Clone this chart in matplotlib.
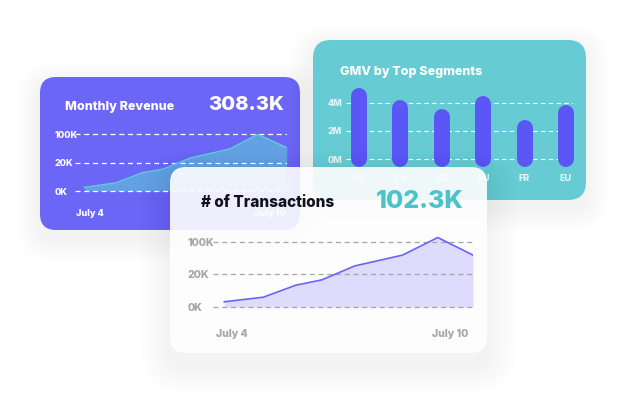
import matplotlib.pyplot as plt
from matplotlib.patches import FancyBboxPatch
from matplotlib import font_manager

plt.rcParams['font.family'] = ['Inter', 'DejaVu Sans']
plt.rcParams['font.weight'] = 'heavy'
print(sorted({(f.name, f.weight) for f in font_manager.fontManager.ttflist if 'Inter' in f.name}))

W, H = 627, 394

# data (line values are in grid steps: 0K, 20K, 100K)
days = [4.0, 4.94, 5.73, 6.35, 7.15, 8.3, 9.15, 10.0]
revenue = [0.13, 0.29, 0.65, 0.78, 1.17, 1.48, 2.0, 1.53]
transactions = [0.16, 0.30, 0.67, 0.83, 1.26, 1.59, 2.13, 1.59]
line_ticks = [0, 1, 2]
line_tick_labels = ['0K', '20K', '100K']
date_labels = ['July 4', 'July 10']

segments = ['US', 'CA', 'GB', 'AU', 'FR', 'EU']
gmv = [4.5, 3.6, 3.0, 3.9, 2.2, 3.3]
gmv_ticks = [0, 2, 4]
gmv_tick_labels = ['0M', '2M', '4M']

PURPLE = '#6C66F7'
TEAL = '#66CBD3'
BAR = '#5B57F7'
GREY = '#A5A5A5'

fig = plt.figure(figsize=(W / 100, H / 100), dpi=100)
fig.patch.set_facecolor('white')


def layer(z):
    # full-figure axes in pixel units, y going down
    ax = fig.add_axes([0, 0, 1, 1], zorder=z)
    ax.set_xlim(0, W)
    ax.set_ylim(H, 0)
    ax.axis('off')
    return ax


def px_axes(x0, y0, x1, y1, z):
    ax = fig.add_axes([x0 / W, 1 - y1 / H, (x1 - x0) / W, (y1 - y0) / H], zorder=z)
    ax.patch.set_alpha(0)
    for s in ax.spines.values():
        s.set_visible(False)
    return ax


def card(ax, x, y, w, h, r, color, alpha=1.0, dy=8, spread=24):
    for i in range(12):
        g = spread * (i + 1) / 12
        ax.add_patch(FancyBboxPatch((x - g, y - g + dy), w + 2 * g, h + 2 * g,
                                    boxstyle=f'round,pad=0,rounding_size={r + g}',
                                    fc='#3a3a60', ec='none', alpha=0.0035))
    ax.add_patch(FancyBboxPatch((x, y), w, h,
                                boxstyle=f'round,pad=0,rounding_size={r}',
                                fc=color, ec='none', alpha=alpha))


def left_labels(ax):
    for t in ax.get_yticklabels():
        t.set_ha('left')


# ---- card 1: Monthly Revenue
bg1 = layer(1)
card(bg1, 40, 77, 260, 153, 16, PURPLE)
bg1.text(65, 110, 'Monthly Revenue', color='white', fontsize=9, va='baseline')
bg1.text(284, 110, '308.3K', color='white', fontsize=14.5, ha='right', va='baseline')
bg1.text(90, 213, date_labels[0], color='white', fontsize=6.6, ha='center', va='center')
bg1.text(270, 213, date_labels[1], color='white', fontsize=6.6, ha='center', va='center')

ax1 = px_axes(75, 125, 287, 195, 2)
ax1.fill_between(days, revenue, 0, color='#5FD0D6', alpha=0.55, lw=0)
ax1.plot(days, revenue, color='#5FD0D6', lw=1)
ax1.set_xlim(3.72, 10.01)
ax1.set_ylim(-0.14, 2.33)
ax1.set_xticks([])
ax1.set_yticks(line_ticks, line_tick_labels)
ax1.grid(axis='y', color='white', ls=(0, (4, 3)), lw=0.9)
ax1.tick_params(axis='y', length=0, pad=15, labelsize=6.5, labelcolor='white')
left_labels(ax1)

# ---- card 2: GMV by Top Segments
bg2 = layer(3)
card(bg2, 313, 40, 273, 160, 18, TEAL)
bg2.text(340, 75, 'GMV by Top Segments', color='white', fontsize=9, va='baseline')

ax2 = px_axes(346, 85, 573, 167, 4)
bars = ax2.vlines(range(len(segments)), 0, gmv, colors=BAR, lw=11.5, clip_on=False)
bars.set_capstyle('round')
ax2.set_xlim(-0.31, 5.17)
ax2.set_ylim(-0.544, 5.25)
ax2.set_xticks(range(len(segments)), segments)
ax2.set_yticks(gmv_ticks, gmv_tick_labels)
ax2.grid(axis='y', color=(1, 1, 1, 0.75), ls=(0, (4, 3)), lw=0.8)
ax2.tick_params(axis='x', length=0, pad=5, labelsize=6.5, labelcolor=(1, 1, 1, 0.8))
ax2.tick_params(axis='y', length=0, pad=13, labelsize=6.5, labelcolor=(1, 1, 1, 0.8))
left_labels(ax2)

# ---- card 3: # of Transactions
bg3 = layer(5)
card(bg3, 170, 167, 317, 186, 16, 'white', alpha=0.9, dy=12, spread=30)
bg3.text(201, 207, '# of Transactions', color='#111122', fontsize=11, va='baseline')
bg3.text(420, 208, '102.3K', color='#4DC2CB', fontsize=18, ha='center', va='baseline')
bg3.text(231.5, 334, date_labels[0], color=GREY, fontsize=7.5, ha='center', va='center')
bg3.text(450, 334, date_labels[1], color=GREY, fontsize=7.5, ha='center', va='center')

ax3 = px_axes(213, 230, 473, 310, 6)
ax3.fill_between(days, transactions, 0, color='#DEDBFD', lw=0)
ax3.plot(days, transactions, color='#6A63F5', lw=1.2)
ax3.set_xlim(3.727, 10.0)
ax3.set_ylim(-0.092, 2.36)
ax3.set_xticks([])
ax3.set_yticks(line_ticks, line_tick_labels)
ax3.grid(axis='y', color=GREY, ls=(0, (4, 3)), lw=0.9)
ax3.tick_params(axis='y', length=0, pad=18, labelsize=7.5, labelcolor=GREY)
left_labels(ax3)

fig.savefig('out.png', dpi=100)
